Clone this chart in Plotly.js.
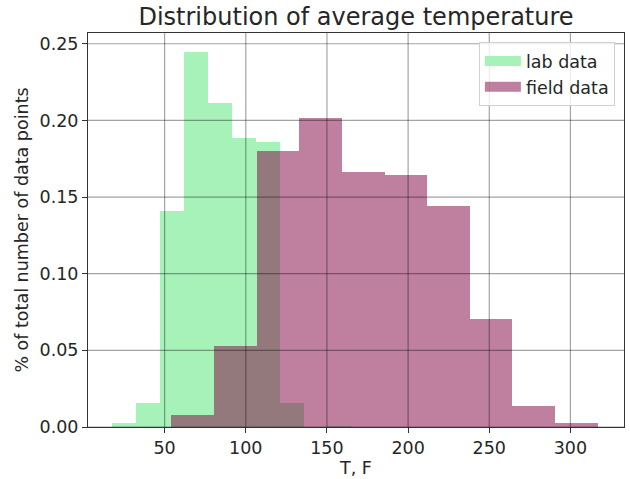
<!DOCTYPE html>
<html>
<head>
<meta charset="utf-8">
<script src="https://cdn.plot.ly/plotly-3.0.1.min.js"></script>
<style>html,body{margin:0;padding:0;background:#fff;}#chart{width:630px;height:479px;}</style>
</head>
<body>
<div id="chart"></div>
<script>
// Bin edges (°F) and normalized heights
var labEdges = [17.8, 32.5, 47.2, 62.0, 76.7, 91.4, 106.1, 120.8, 135.6, 150.3, 165.0];
var labHeights = [0.0029, 0.0154, 0.141, 0.2448, 0.2112, 0.1888, 0.1858, 0.0154, 0.0, 0.0007];
var fieldEdges = [54.2, 80.5, 106.7, 133.0, 159.3, 185.5, 211.8, 238.1, 264.3, 290.6, 316.9];
var fieldHeights = [0.0081, 0.0527, 0.180, 0.2014, 0.1663, 0.1645, 0.1441, 0.0703, 0.0139, 0.0026];
var seriesNames = ["lab data", "field data"];
var xTicks = [50, 100, 150, 200, 250, 300];
var yTicks = [0, 0.05, 0.10, 0.15, 0.20, 0.25];

function centers(e){ var c=[]; for(var i=0;i<e.length-1;i++) c.push((e[i]+e[i+1])/2); return c; }
function widths(e){ var w=[]; for(var i=0;i<e.length-1;i++) w.push(e[i+1]-e[i]); return w; }

var labColor = "#a6f2b9";
var fieldColor = "rgba(128,0,64,0.5)";
var font = "DejaVu Sans, Liberation Sans, sans-serif";
var fs = 17.5;

var traces = [
  {type:"bar", x:centers(labEdges), y:labHeights, width:widths(labEdges),
   marker:{color:labColor, line:{width:0}}, showlegend:false, hoverinfo:"skip"},
  {type:"bar", x:centers(fieldEdges), y:fieldHeights, width:widths(fieldEdges),
   marker:{color:fieldColor, line:{width:0}}, showlegend:false, hoverinfo:"skip"},
  {type:"scatter", mode:"lines", x:[null], y:[null], name:seriesNames[0], legendgroup:"a",
   line:{color:labColor, width:14}},
  {type:"scatter", mode:"lines", x:[null], y:[null], name:seriesNames[1], legendgroup:"b",
   line:{color:fieldColor, width:14}}
];

var gridColor = "rgba(0,0,0,0.36)";
var shapes = [];
xTicks.forEach(function(v){
  shapes.push({type:"line", xref:"x", yref:"paper", x0:v, x1:v, y0:0, y1:1, layer:"above",
    line:{color:gridColor, width:1.2}});
});
yTicks.forEach(function(v){
  shapes.push({type:"line", xref:"paper", yref:"y", x0:0, x1:1, y0:v, y1:v, layer:"above",
    line:{color:gridColor, width:1.2}});
});

var layout = {
  width:630, height:479,
  paper_bgcolor:"#fff", plot_bgcolor:"#fff",
  margin:{l:88, r:6, t:33, b:52},
  barmode:"overlay", bargap:0,
  font:{family:font, size:fs, color:"#262626"},
  title:{text:"Distribution of average temperature", font:{family:font, size:24, color:"#262626"},
    x:0.5, xref:"paper", xanchor:"center", y:1 - 17/479, yref:"container", yanchor:"middle"},
  xaxis:{range:[2.8, 333], tickvals:xTicks, ticktext:xTicks.map(String),
    showgrid:false, zeroline:false, showline:true, mirror:true, linecolor:"#333", linewidth:1,
    ticks:"outside", ticklen:5, tickcolor:"#333", tickfont:{size:fs},
    title:{text:"T, F", font:{size:fs}, standoff:3}},
  yaxis:{range:[0, 0.257], tickvals:yTicks, ticktext:yTicks.map(function(v){return v.toFixed(2);}),
    showgrid:false, zeroline:false, showline:true, mirror:true, linecolor:"#333", linewidth:1,
    ticks:"outside", ticklen:5, tickcolor:"#333", tickfont:{size:fs},
    title:{text:"% of total number of data points", font:{size:fs}, standoff:6}},
  legend:{x:0.983, xanchor:"right", y:0.977, yanchor:"top", bgcolor:"rgba(255,255,255,0.8)",
    bordercolor:"#d0d0d0", borderwidth:1, font:{size:fs}, itemwidth:36, tracegroupgap:0,
    traceorder:"grouped"},
  shapes:shapes
};

Plotly.newPlot("chart", traces, layout, {displayModeBar:false, staticPlot:true});
</script>
</body>
</html>
